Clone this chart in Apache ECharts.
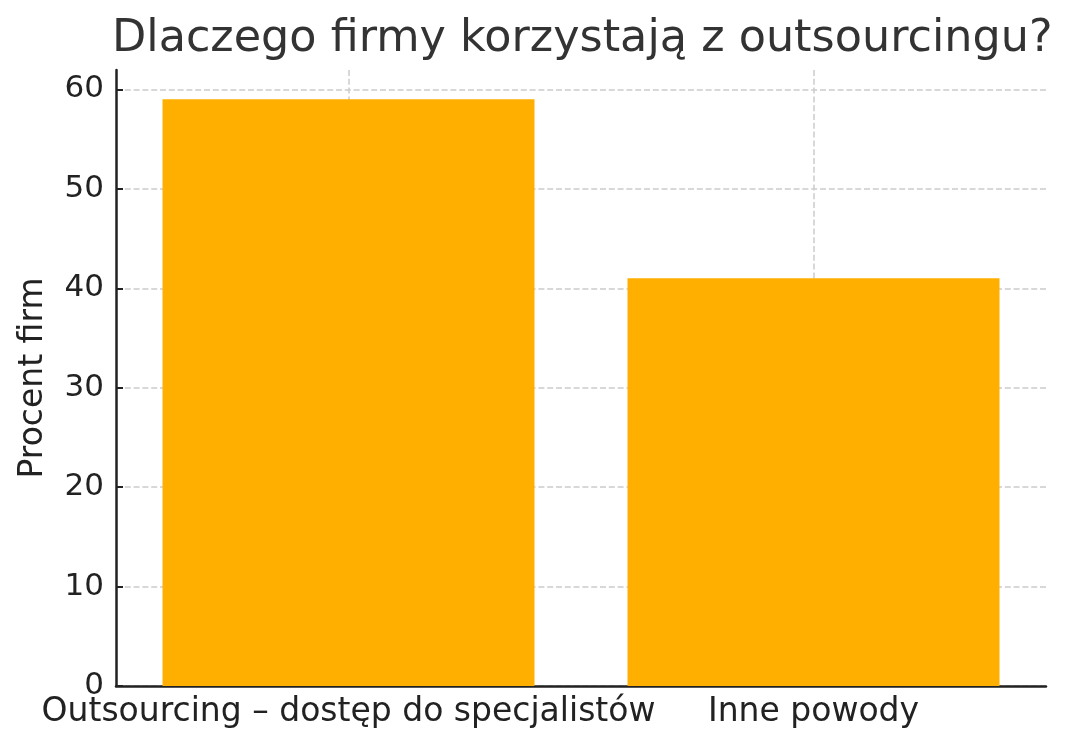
<!DOCTYPE html>
<html>
<head>
<meta charset="utf-8">
<script src="https://cdn.jsdelivr.net/npm/echarts@6/dist/echarts.min.js"></script>
<style>html,body{margin:0;padding:0;background:#fff}#c{width:1071px;height:750px}</style>
</head>
<body>
<div id="c"></div>
<script>
const categories = ['Outsourcing – dostęp do specjalistów', 'Inne powody'];
const values = [59, 41];
const yTicks = [0, 10, 20, 30, 40, 50, 60];
const titleText = 'Dlaczego firmy korzystają z outsourcingu?';
const yName = 'Procent firm';

const chart = echarts.init(document.getElementById('c'));
const font = 'DejaVu Sans';
const gridStyle = { color: '#cccccc', type: [6, 2.8], width: 1.5 };
chart.setOption({
  animation: false,
  backgroundColor: '#fff',
  title: {
    text: titleText,
    left: 107, top: 12,
    textStyle: { fontFamily: font, fontSize: 44.5, fontWeight: 'normal', color: '#333' }
  },
  grid: { left: 116, right: 25, top: 70, bottom: 64, containLabel: false, outerBoundsMode: 'none' },
  xAxis: {
    type: 'category',
    data: categories,
    axisLine: { lineStyle: { color: '#222', width: 2.5 } },
    axisTick: { alignWithLabel: true, inside: true, length: 7, lineStyle: { color: '#222', width: 2 } },
    axisLabel: { fontFamily: font, fontSize: 33, color: '#222', margin: 10, interval: 0 },
    splitLine: { show: true, alignWithLabel: true, lineStyle: gridStyle }
  },
  yAxis: {
    type: 'value',
    min: 0, max: 61.95, interval: 10,
    name: yName,
    nameLocation: 'middle',
    nameGap: 66,
    nameTextStyle: { fontFamily: font, fontSize: 33, color: '#222' },
    axisLine: { show: true, lineStyle: { color: '#222', width: 2.5 } },
    axisTick: { show: true, inside: true, length: 7, lineStyle: { color: '#222', width: 2 } },
    axisLabel: {
      fontFamily: font, fontSize: 31, color: '#222', margin: 12,
      showMaxLabel: false,
      formatter: v => (yTicks.indexOf(v) >= 0 ? String(v) : '')
    },
    splitLine: { show: true, showMaxLine: false, lineStyle: gridStyle }
  },
  series: [{
    type: 'bar',
    data: values,
    barWidth: '80%',
    itemStyle: { color: '#FFAF00' }
  }]
});
</script>
</body>
</html>
